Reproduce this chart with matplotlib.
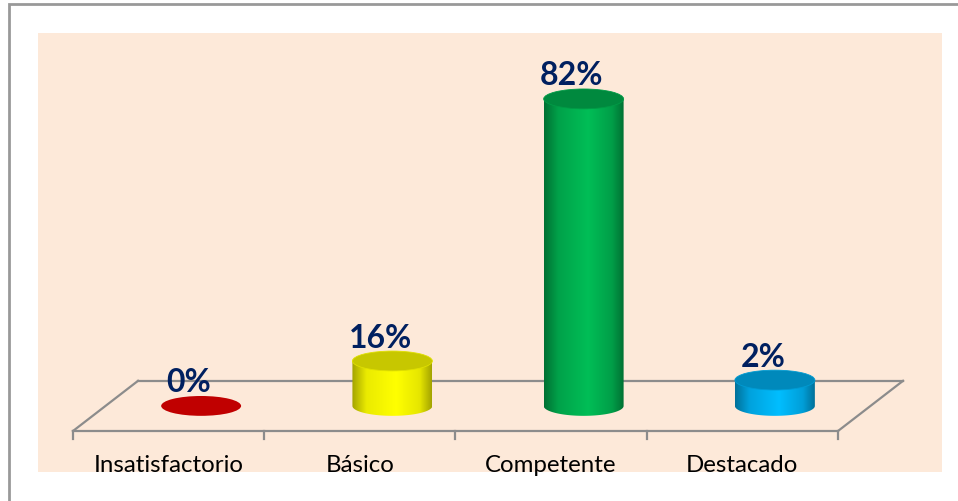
import numpy as np
import matplotlib
matplotlib.use("Agg")
import matplotlib.pyplot as plt
from matplotlib.patches import Rectangle, Ellipse, PathPatch
from matplotlib.path import Path
from matplotlib.colors import LinearSegmentedColormap, to_rgb

categories = ["Insatisfactorio", "Básico", "Competente", "Destacado"]
pct_labels = ["0%", "16%", "82%", "2%"]
# drawn cylinder heights (axis units, %)
bar_heights = [0, 12, 82, 6.9]
bar_colors = ["#C00000", "#FFFF00", "#00B050", "#00B0F0"]

W, H = 958, 502
fig = plt.figure(figsize=(W / 100, H / 100), dpi=100)
fig.patch.set_facecolor("white")

# outer frame + peach plot area (pixel layout)
fig.add_artist(Rectangle((9 / W, -0.1), 1.2, (H - 5) / H + 0.1, transform=fig.transFigure,
                         facecolor="white", edgecolor="#999999", lw=2, zorder=0))
fig.add_artist(Rectangle((38 / W, (H - 473) / H), (942 - 38) / W, (473 - 34) / H,
                         transform=fig.transFigure, facecolor="#FDE9D9", edgecolor="none", zorder=0.5))

ax = fig.add_axes([73 / W, 70 / H, 765 / W, 374.4 / H])
ax.set_zorder(2)
ax.set_facecolor("none")
ax.axis("off")

depth_x, depth_y = 0.34, 13.4   # oblique offset of the floor back edge
cyl_w, ell_h = 0.418, 5.3
gray = "#8C8C8C"
n = len(categories)

# floor
x0, x1 = -0.5, n - 0.5
ax.plot([x0 + depth_x, x1 + depth_x], [depth_y, depth_y], color=gray, lw=1.6, zorder=1, clip_on=False)
ax.plot([x0, x0 + depth_x], [0, depth_y], color=gray, lw=1.6, zorder=1, clip_on=False)
ax.plot([x1, x1 + depth_x], [0, depth_y], color=gray, lw=1.6, zorder=1, clip_on=False)
ax.plot([x0, x1], [0, 0], color=gray, lw=1.6, zorder=1, clip_on=False)
for k in range(n + 1):
    ax.plot([x0 + k, x0 + k], [0, -2.2], color=gray, lw=1.6, zorder=1, clip_on=False)


def shade(c, f):
    r, g, b = to_rgb(c)
    return (min(r * f, 1), min(g * f, 1), min(b * f, 1))


grad = np.linspace(0, 1, 256).reshape(1, -1)
for i, (h, c, lab) in enumerate(zip(bar_heights, bar_colors, pct_labels)):
    cx = i + depth_x / 2
    base = depth_y / 2
    top = base + h
    if h > 0:
        cmap = LinearSegmentedColormap.from_list(
            "c%d" % i,
            [(0, shade(c, 0.64)), (0.18, shade(c, 0.92)), (0.55, shade(c, 1.08)),
             (0.85, shade(c, 0.9)), (1, shade(c, 0.64))])
        th = np.linspace(np.pi, 2 * np.pi, 80)
        xs = list(cx + cyl_w / 2 * np.cos(th)) + [cx + cyl_w / 2, cx - cyl_w / 2, cx - cyl_w / 2]
        ys = list(base + ell_h / 2 * np.sin(th)) + [top, top, base]
        clip = PathPatch(Path(np.column_stack([xs, ys])), facecolor="none", edgecolor="none",
                         transform=ax.transData)
        ax.add_patch(clip)
        im = ax.imshow(grad, extent=[cx - cyl_w / 2, cx + cyl_w / 2, base - ell_h, top],
                       aspect="auto", cmap=cmap, interpolation="bilinear", zorder=2)
        im.set_clip_path(clip)
        ax.add_patch(Ellipse((cx, top), cyl_w, ell_h, facecolor=shade(c, 0.78),
                             edgecolor=shade(c, 0.88), lw=0.6, zorder=3))
    else:
        ax.add_patch(Ellipse((cx, top), cyl_w, ell_h, facecolor=c, edgecolor="none", zorder=3))
    ax.text(cx - 0.063, top + 6.4, lab, ha="center", va="center", fontsize=23,
            fontweight="bold", color="#002060", family="Lato", zorder=4)

for i, cat in enumerate(categories):
    ax.text(i, -8.9, cat, ha="center", va="center", fontsize=17.3, color="black",
            family="Lato", zorder=4)

ax.set_xlim(-0.5, n - 0.5)
ax.set_ylim(0, 100)

fig.savefig("out.png", dpi=100)
